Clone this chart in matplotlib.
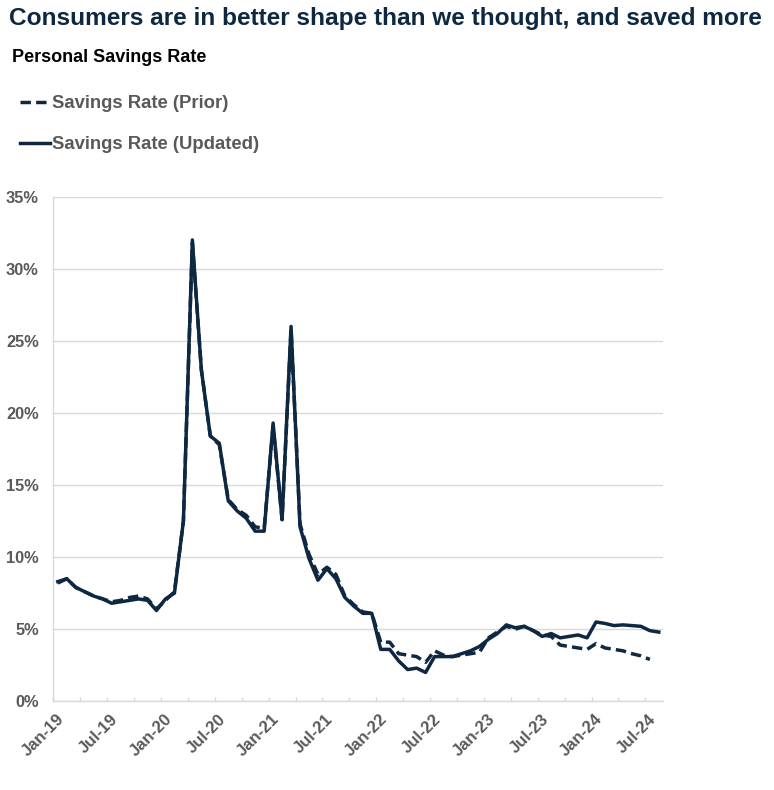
import matplotlib
matplotlib.use("Agg")
import matplotlib.pyplot as plt
import numpy as np
from matplotlib.transforms import ScaledTranslation
from matplotlib.ticker import FixedLocator, FuncFormatter

plt.rcParams['font.family'] = ['Liberation Sans', 'DejaVu Sans']

# monthly personal savings rate (%), Jan-19 onwards
updated = [8.3, 8.5, 7.9, 7.6, 7.3, 7.1, 6.8, 6.9, 7.0, 7.1, 7.0, 6.3,
           7.1, 7.5, 12.5, 32.0, 23.0, 18.4, 17.9, 13.9, 13.2, 12.7, 11.8, 11.8,
           19.3, 12.6, 26.0, 12.1, 9.9, 8.4, 9.2, 8.5, 7.2, 6.6, 6.1, 6.1,
           3.6, 3.6, 2.8, 2.2, 2.3, 2.0, 3.1, 3.1, 3.1, 3.3, 3.5, 3.8,
           4.3, 4.7, 5.3, 5.1, 5.2, 4.9, 4.5, 4.7, 4.4, 4.5, 4.6, 4.4,
           5.5, 5.4, 5.25, 5.3, 5.25, 5.2, 4.9, 4.8]
prior = [8.2, 8.5, 7.9, 7.6, 7.3, 7.1, 6.9, 7.0, 7.2, 7.3, 7.1, 6.4,
         7.0, 7.6, 12.5, 31.8, 23.0, 18.4, 17.8, 14.0, 13.3, 12.9, 12.1, 12.0,
         19.1, 12.6, 25.8, 12.3, 10.2, 8.8, 9.3, 8.8, 7.3, 6.7, 6.2, 6.1,
         4.1, 4.1, 3.3, 3.2, 3.1, 2.7, 3.5, 3.2, 3.1, 3.2, 3.3, 3.4,
         4.4, 4.8, 5.2, 5.0, 5.2, 4.9, 4.6, 4.5, 3.9, 3.8, 3.7, 3.6,
         4.0, 3.7, 3.6, 3.5, 3.3, 3.15, 2.9]
tick_labels = ['Jan-19', 'Jul-19', 'Jan-20', 'Jul-20', 'Jan-21', 'Jul-21',
               'Jan-22', 'Jul-22', 'Jan-23', 'Jul-23', 'Jan-24', 'Jul-24']

navy = '#0e2841'
gray = '#595959'
grid = '#d9d9d9'

fig = plt.figure(figsize=(7.74, 7.9), dpi=100)
ax = fig.add_axes([0.0689, 0.1123, 0.7881, 0.6387])

# points sit mid-month on the date axis
x_upd = np.arange(len(updated)) + 0.5
x_pri = np.arange(len(prior)) + 0.5

ax.plot(x_pri, prior, color=navy, lw=2.5, dashes=(3, 1.5), label='Savings Rate (Prior)', zorder=3)
ax.plot(x_upd, updated, color=navy, lw=2.5, label='Savings Rate (Updated)', zorder=4)

ax.set_xlim(0, 68)
ax.set_ylim(0, 35)
ax.set_yticks(np.arange(0, 36, 5))
ax.yaxis.set_major_formatter(FuncFormatter(lambda v, p: f'{v:.0f}%'))
ax.grid(axis='y', color=grid, lw=1)
ax.set_axisbelow(True)

ax.xaxis.set_major_locator(FixedLocator(np.arange(0, 67, 6)))
ax.xaxis.set_minor_locator(FixedLocator(np.arange(0, 69, 3)))
ax.set_xticklabels(tick_labels)

for s in ['top', 'right']:
    ax.spines[s].set_visible(False)
for s in ['left', 'bottom']:
    ax.spines[s].set_color(grid)
    ax.spines[s].set_linewidth(1)

ax.tick_params(axis='y', length=0, pad=10.5, labelsize=11.8, labelcolor=gray)
ax.tick_params(axis='x', which='both', direction='in', length=3, color=grid, width=1)
ax.tick_params(axis='x', which='major', pad=11, labelsize=12, labelcolor=gray)
for lbl in ax.get_yticklabels():
    lbl.set_fontweight('bold')
for lbl in ax.get_xticklabels():
    lbl.set_fontweight('bold')
    lbl.set_rotation(45)
    lbl.set_ha('right')
    lbl.set_va('center')
    lbl.set_rotation_mode('anchor')
    lbl.set_transform(lbl.get_transform() + ScaledTranslation(6 / 72, 0, fig.dpi_scale_trans))

fig.text(9 / 774, 1 - 18 / 790, 'Consumers are in better shape than we thought, and saved more',
         fontsize=17.6, fontweight='bold', color=navy, va='center', ha='left')
fig.text(12 / 774, 1 - 58 / 790, 'Personal Savings Rate',
         fontsize=13, fontweight='bold', color='black', va='center', ha='left')

leg = fig.legend(loc='upper left', bbox_to_anchor=(20 / 774, 1 - 95 / 790), frameon=False,
                 fontsize=13.3, handlelength=1.6, handletextpad=0.12, labelspacing=1.32,
                 borderpad=0, borderaxespad=0)
for t in leg.get_texts():
    t.set_color(gray)
    t.set_fontweight('bold')

fig.savefig('out.png', dpi=100)
